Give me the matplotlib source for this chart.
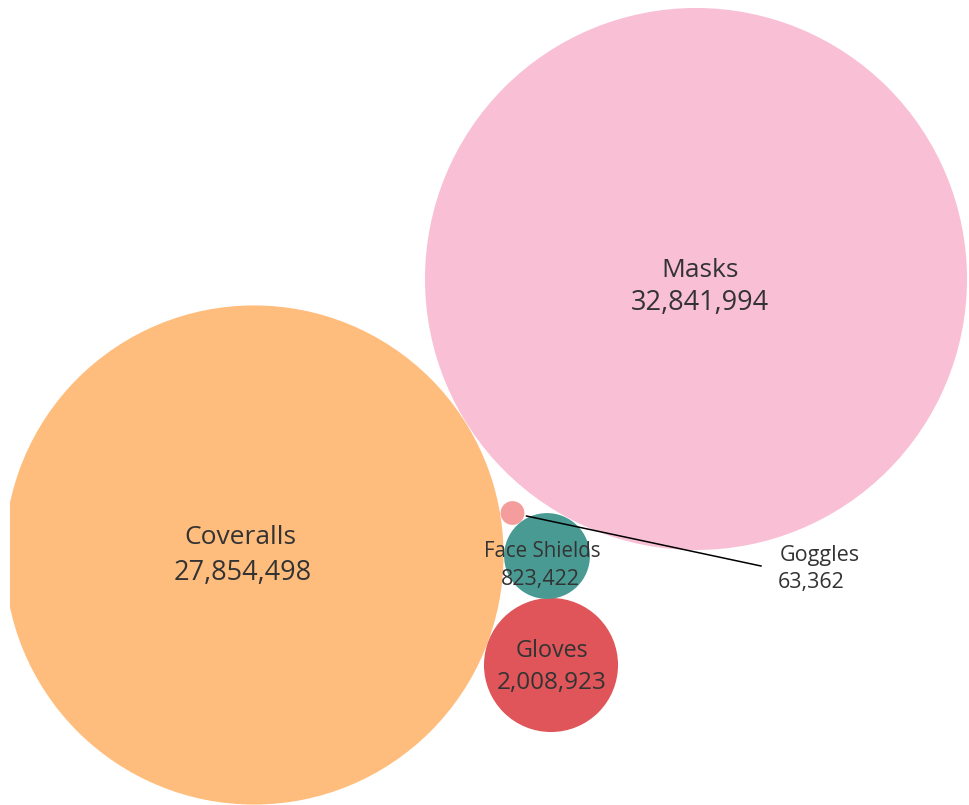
import numpy as np
import matplotlib
matplotlib.use("Agg")
import matplotlib.pyplot as plt
from matplotlib.patches import Circle

# ---- data ----
categories = ["Masks", "Coveralls", "Gloves", "Face Shields", "Goggles"]
values = [32841994, 27854498, 2008923, 823422, 63362]

# ---- layout / style (pixel-space positions of the packed bubbles) ----
centers = [(696, 279), (254, 555), (551, 665), (547, 556), (512.5, 513)]
colors = ["#F9BFD4", "#FFBD7D", "#E05559", "#4A9A94", "#F59D9C"]
name_sizes = [19, 19, 16.8, 14.8, 15.5]
value_sizes = [19.5, 19.5, 17.5, 15.5, 15.5]
label_pos = [((700, 270.5), (700, 302.5)),
             ((240, 537.5), (243, 572.5)),
             ((552, 650.5), (552, 682.5)),
             ((542, 551), (540, 579)),
             ((820, 555), (811, 582))]
max_radius = 271

plt.rcParams['font.family'] = ['Open Sans', 'DejaVu Sans']
text_color = "#333333"

fig = plt.figure(figsize=(9.7, 8.05), dpi=100)
ax = fig.add_axes([10 / 970, 0, 960 / 970, 1])
ax.set_xlim(10, 970)
ax.set_ylim(805, 0)
ax.set_aspect('equal')
ax.axis('off')

scale = max_radius / np.sqrt(max(values))
for cat, val, (cx, cy), col, ns, vs, (lp, vp) in zip(categories, values, centers, colors,
                                                     name_sizes, value_sizes, label_pos):
    r = scale * np.sqrt(val)
    ax.add_patch(Circle((cx, cy), r, facecolor=col, edgecolor='none'))
    ax.text(lp[0], lp[1], cat, ha='center', va='center', fontsize=ns, color=text_color)
    ax.text(vp[0], vp[1], f"{val:,}", ha='center', va='center', fontsize=vs, color=text_color)

# Goggles leader line
gi = categories.index("Goggles")
gx, gy = centers[gi]
ax.plot([gx + 14, 761], [gy + 3, 566], color='black', lw=1.1)

fig.savefig("out.png", dpi=100)
